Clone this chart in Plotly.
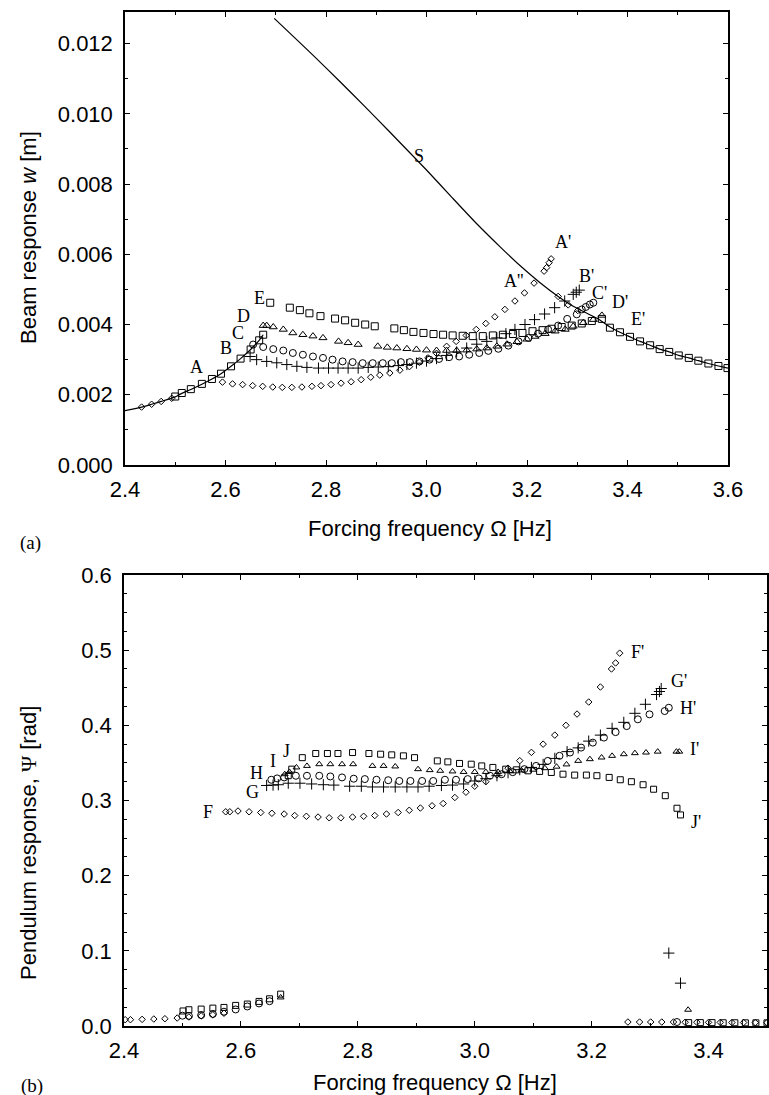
import plotly.graph_objects as go

W, H = 769, 1095

# ---------------- (a) beam response ----------------
S_x = [2.400, 2.433, 2.453, 2.472, 2.500, 2.513, 2.531, 2.553, 2.573, 2.591, 2.611, 2.630, 2.650, 2.667, 2.675,
       None,
       2.697, 2.750, 2.800, 2.850, 2.900, 2.950, 3.000, 3.050, 3.100, 3.146, 3.186, 3.226, 3.262, 3.292,
       3.325, 3.345, 3.365, 3.385, 3.405, 3.425, 3.445, 3.464, 3.483, 3.502, 3.522, 3.541, 3.561, 3.581, 3.600]
S_y = [0.00155, 0.00165, 0.00173, 0.00181, 0.00194, 0.00204, 0.00215, 0.00230, 0.00245, 0.00260, 0.00281, 0.00303,
       0.00329, 0.00355, 0.00371,
       None,
       0.01272, 0.01200, 0.01131, 0.01060, 0.00988, 0.00914, 0.00840, 0.00763, 0.00687, 0.00622, 0.00568, 0.00519,
       0.00480, 0.00452, 0.00428, 0.00413, 0.00393, 0.00378, 0.00365, 0.00352, 0.00341, 0.00330, 0.00322,
       0.00312, 0.00305, 0.00297, 0.00289, 0.00282, 0.00276]

A_x = [2.433, 2.453, 2.472, 2.493, 2.594, 2.614, 2.634, 2.654, 2.674, 2.694, 2.713, 2.732, 2.752, 2.772, 2.790,
       2.810, 2.830, 2.850, 2.870, 2.889, 2.907, 2.927, 2.947, 2.966, 2.986, 3.003, 3.020, 3.040, 3.059, 3.079,
       3.099, 3.118, 3.136, 3.156, 3.176, 3.195, 3.214, 3.234, 3.239, 3.244, 3.248, 3.262, 3.282, 3.301]
A_y = [0.00165, 0.00173, 0.00181, 0.00190, 0.00236, 0.00231, 0.00229, 0.00226, 0.00224, 0.00222, 0.00221, 0.00221,
       0.00222, 0.00224, 0.00226, 0.00229, 0.00233, 0.00237, 0.00243, 0.00250, 0.00256, 0.00262, 0.00270, 0.00280,
       0.00293, 0.00305, 0.00318, 0.00338, 0.00352, 0.00369, 0.00386, 0.00403, 0.00422, 0.00443, 0.00467, 0.00490,
       0.00518, 0.00552, 0.00562, 0.00576, 0.00587, 0.00480, 0.00456, 0.00440]

B_x = [2.649, 2.662, 2.682, 2.702, 2.722, 2.742, 2.762, 2.785, 2.805, 2.824, 2.844, 2.864, 2.884, 2.904, 2.924,
       2.944, 2.961, 2.980, 3.000, 3.020, 3.040, 3.060, 3.080, 3.100, 3.120, 3.140, 3.158, 3.176, 3.196, 3.215,
       3.235, 3.255, 3.275, 3.292, 3.298, 3.304]
B_y = [0.00309, 0.00300, 0.00295, 0.00291, 0.00286, 0.00281, 0.00278, 0.00276, 0.00276, 0.00276, 0.00276, 0.00276,
       0.00278, 0.00279, 0.00280, 0.00283, 0.00286, 0.00290, 0.00296, 0.00303, 0.00312, 0.00322, 0.00333, 0.00344,
       0.00352, 0.00362, 0.00374, 0.00386, 0.00400, 0.00414, 0.00430, 0.00448, 0.00467, 0.00486, 0.00492, 0.00498]

C_x = [2.655, 2.675, 2.695, 2.715, 2.734, 2.754, 2.774, 2.794, 2.813, 2.833, 2.853, 2.873, 2.893, 2.913, 2.931,
       2.949, 2.967, 2.986, 3.006, 3.025, 3.045, 3.065, 3.085, 3.105, 3.123, 3.143, 3.163, 3.183, 3.203, 3.222,
       3.242, 3.262, 3.280, 3.299, 3.309, 3.317, 3.325, 3.332]
C_y = [0.00343, 0.00336, 0.00330, 0.00326, 0.00319, 0.00314, 0.00309, 0.00305, 0.00300, 0.00295, 0.00293, 0.00290,
       0.00290, 0.00290, 0.00290, 0.00293, 0.00293, 0.00295, 0.00300, 0.00302, 0.00307, 0.00309, 0.00314, 0.00319,
       0.00325, 0.00331, 0.00340, 0.00352, 0.00362, 0.00374, 0.00386, 0.00397, 0.00416, 0.00429, 0.00443, 0.00450,
       0.00457, 0.00462]

D_x = [2.675, 2.682, 2.695, 2.715, 2.734, 2.754, 2.774, 2.794, 2.825, 2.844, 2.864, 2.903, 2.922, 2.941, 2.961,
       2.980, 3.000, 3.020, 3.040, 3.060, 3.080, 3.100, 3.120, 3.140, 3.160, 3.180, 3.200, 3.216, 3.236, 3.256,
       3.276, 3.292, 3.312, 3.332, 3.349]
D_y = [0.00397, 0.00397, 0.00393, 0.00386, 0.00376, 0.00371, 0.00367, 0.00362, 0.00352, 0.00348, 0.00343, 0.00338,
       0.00335, 0.00333, 0.00331, 0.00329, 0.00327, 0.00326, 0.00326, 0.00326, 0.00327, 0.00330, 0.00333, 0.00338,
       0.00344, 0.00351, 0.00358, 0.00366, 0.00374, 0.00381, 0.00386, 0.00395, 0.00405, 0.00414, 0.00426]

E_x = [2.500, 2.513, 2.531, 2.553, 2.573, 2.591, 2.611, 2.630, 2.650, 2.667, 2.675,
       2.689, 2.728, 2.748, 2.767, 2.789, 2.818, 2.838, 2.858, 2.878, 2.897, 2.936, 2.955, 2.974, 2.994, 3.014,
       3.033, 3.052, 3.072, 3.092, 3.112, 3.132, 3.152, 3.172, 3.191, 3.211, 3.231, 3.249, 3.269, 3.289, 3.309,
       3.329, 3.349,
       3.365, 3.385, 3.405, 3.425, 3.445, 3.464, 3.483, 3.502, 3.522, 3.541, 3.561, 3.581, 3.599]
E_y = [0.00195, 0.00205, 0.00216, 0.00231, 0.00245, 0.00260, 0.00281, 0.00303, 0.00329, 0.00355, 0.00371,
       0.00462, 0.00448, 0.00441, 0.00432, 0.00424, 0.00417, 0.00412, 0.00405, 0.00400, 0.00395, 0.00389, 0.00384,
       0.00379, 0.00376, 0.00373, 0.00371, 0.00369, 0.00368, 0.00367, 0.00367, 0.00369, 0.00371, 0.00373, 0.00376,
       0.00381, 0.00384, 0.00388, 0.00393, 0.00397, 0.00403, 0.00410, 0.00416,
       0.00391, 0.00378, 0.00365, 0.00352, 0.00341, 0.00330, 0.00322, 0.00312, 0.00305, 0.00297, 0.00289, 0.00282,
       0.00276]

labels_a = ["A", "B", "C", "D", "E", "S", "A'", "A''", "B'", "C'", "D'", "E'"]
labels_a_x = [2.543, 2.601, 2.625, 2.636, 2.667, 2.985, 3.272, 3.174, 3.319, 3.345, 3.385, 3.420]
labels_a_y = [0.00280, 0.00334, 0.00377, 0.00423, 0.00476, 0.00880, 0.00634, 0.00523, 0.00537, 0.00490, 0.00464, 0.00416]

# ---------------- (b) pendulum response ----------------
F_x = [2.402, 2.411, 2.431, 2.451, 2.470, 2.491, 2.511, 2.532, 2.552, 2.571,
       2.574, 2.581, 2.595, 2.614, 2.634, 2.653, 2.674, 2.692, 2.712, 2.732, 2.751, 2.771, 2.791, 2.810, 2.829,
       2.849, 2.869, 2.888, 2.907, 2.927, 2.946, 2.966, 2.985, 3.000, 3.019, 3.038, 3.057, 3.077, 3.097, 3.117,
       3.137, 3.156, 3.175, 3.195, 3.215, 3.234, 3.241, 3.248,
       3.262, 3.282, 3.301, 3.320, 3.340, 3.360, 3.380, 3.400, 3.420, 3.440, 3.460, 3.480, 3.500]
F_y = [0.0084, 0.0084, 0.0088, 0.0093, 0.0097, 0.0106, 0.0120, 0.0135, 0.0150, 0.0170,
       0.285, 0.285, 0.286, 0.285, 0.284, 0.283, 0.282, 0.280, 0.279, 0.278, 0.277, 0.277, 0.278, 0.279, 0.280,
       0.282, 0.284, 0.287, 0.290, 0.293, 0.296, 0.304, 0.311, 0.319, 0.325, 0.334, 0.343, 0.353, 0.364, 0.375,
       0.387, 0.400, 0.415, 0.431, 0.451, 0.475, 0.483, 0.496,
       0.0053, 0.0053, 0.0053, 0.0053, 0.0053, 0.0050, 0.0050, 0.0048, 0.0048, 0.0046, 0.0046, 0.0045, 0.0045]

G_x = [2.644, 2.655, 2.664, 2.681, 2.701, 2.721, 2.741, 2.759, 2.786, 2.806, 2.825, 2.844, 2.864, 2.884, 2.903,
       2.922, 2.943, 2.962, 2.981, 3.000, 3.019, 3.038, 3.057, 3.077, 3.097, 3.117, 3.137, 3.158, 3.177, 3.195,
       3.215, 3.235, 3.255, 3.274, 3.292, 3.311, 3.316, 3.319,
       3.332, 3.352]
G_y = [0.320, 0.3205, 0.321, 0.323, 0.323, 0.322, 0.321, 0.3205, 0.319, 0.319, 0.318, 0.318, 0.318, 0.318, 0.318,
       0.319, 0.320, 0.3205, 0.322, 0.326, 0.329, 0.333, 0.337, 0.341, 0.344, 0.348, 0.356, 0.365, 0.370, 0.379,
       0.387, 0.396, 0.404, 0.416, 0.428, 0.441, 0.445, 0.449,
       0.097, 0.057]

Hc_x = [2.500, 2.511, 2.532, 2.552, 2.571, 2.591, 2.611, 2.631, 2.649,
        2.652, 2.662, 2.674, 2.694, 2.713, 2.734, 2.753, 2.773, 2.793, 2.812, 2.832, 2.852, 2.871, 2.890, 2.910,
        2.929, 2.949, 2.968, 2.988, 3.007, 3.026, 3.046, 3.065, 3.085, 3.105, 3.125, 3.145, 3.163, 3.182, 3.202,
        3.221, 3.241, 3.260, 3.279, 3.299, 3.325, 3.332,
        3.346]
Hc_y = [0.0137, 0.0135, 0.0145, 0.0160, 0.0190, 0.0220, 0.0260, 0.0300, 0.0330,
        0.3276, 0.3294, 0.3307, 0.3329, 0.3329, 0.3329, 0.332, 0.3307, 0.329, 0.3285, 0.3276, 0.327, 0.326, 0.326,
        0.326, 0.326, 0.3276, 0.3276, 0.3285, 0.3294, 0.333, 0.335, 0.3377, 0.3417, 0.346, 0.3527, 0.3594, 0.3638,
        0.3704, 0.377, 0.3837, 0.391, 0.399, 0.408, 0.4146, 0.419, 0.4234,
        0.0053]

I_x = [2.668,
       2.675, 2.683, 2.695, 2.713, 2.734, 2.753, 2.773, 2.792, 2.825, 2.844, 2.864, 2.903, 2.923, 2.941, 2.962,
       2.981, 3.000, 3.019, 3.040, 3.060, 3.080, 3.100, 3.120, 3.140, 3.157, 3.177, 3.197, 3.217, 3.235, 3.255,
       3.274, 3.293, 3.313, 3.345, 3.350,
       3.365]
I_y = [0.038,
       0.335, 0.338, 0.344, 0.346, 0.3483, 0.3483, 0.3483, 0.3483, 0.346, 0.346, 0.3453, 0.3417, 0.3404, 0.3395,
       0.3387, 0.338, 0.338, 0.338, 0.338, 0.339, 0.340, 0.341, 0.343, 0.345, 0.348, 0.3527, 0.355, 0.3572, 0.3594,
       0.3616, 0.363, 0.3638, 0.365, 0.365, 0.365,
       0.0216]

J_x = [2.501, 2.511, 2.532, 2.552, 2.571, 2.591, 2.611, 2.631, 2.649, 2.668,
       2.681, 2.687, 2.705, 2.728, 2.748, 2.766, 2.791, 2.819, 2.839, 2.858, 2.878, 2.897, 2.936, 2.954, 2.974,
       2.994, 3.012, 3.031, 3.053, 3.071, 3.091, 3.111, 3.131, 3.151, 3.171, 3.191, 3.209, 3.230, 3.249, 3.268,
       3.288, 3.306, 3.326, 3.346, 3.352,
       3.366, 3.386, 3.406, 3.425, 3.445, 3.463, 3.481, 3.500]
J_y = [0.0200, 0.0216, 0.0225, 0.0238, 0.0247, 0.0274, 0.0292, 0.0327, 0.0362, 0.0424,
       0.333, 0.3417, 0.357, 0.3625, 0.3625, 0.3625, 0.3638, 0.3625, 0.3616, 0.3607, 0.3594, 0.357, 0.3527, 0.3514,
       0.3493, 0.3483, 0.346, 0.344, 0.3417, 0.3408, 0.3395, 0.3387, 0.3373, 0.335, 0.3338, 0.3338, 0.333, 0.3307,
       0.3276, 0.325, 0.321, 0.315, 0.3064, 0.2897, 0.2808,
       0.0045, 0.0045, 0.0045, 0.0043, 0.0043, 0.0042, 0.0042, 0.0042]

labels_b = ["F", "G", "H", "I", "J", "F'", "G'", "H'", "I'", "J'"]
labels_b_x = [2.544, 2.619, 2.627, 2.655, 2.678, 3.279, 3.349, 3.365, 3.376, 3.378]
labels_b_y = [0.285, 0.311, 0.337, 0.352, 0.366, 0.498, 0.459, 0.423, 0.368, 0.271]

x_ticks_a = [2.4, 2.6, 2.8, 3.0, 3.2, 3.4, 3.6]
x_ticks_b = [2.4, 2.6, 2.8, 3.0, 3.2, 3.4]

# ---------------- figure ----------------
fig = go.Figure()
BLK = "black"


def mk(symbol, size, lw=1.0):
    return dict(symbol=symbol, size=size, color=BLK, line=dict(color=BLK, width=lw))


fig.add_trace(go.Scatter(x=S_x, y=S_y, mode="lines", line=dict(color=BLK, width=1.2, shape="spline", smoothing=0.5),
                         xaxis="x", yaxis="y", connectgaps=False, showlegend=False))
top_series = [(A_x, A_y, "diamond-open", 5), (B_x, B_y, "cross-thin-open", 8),
              (C_x, C_y, "circle-open", 7), (D_x, D_y, "triangle-up-open", 7),
              (E_x, E_y, "square-open", 7)]
for xs, ys, sym, sz in top_series:
    fig.add_trace(go.Scatter(x=xs, y=ys, mode="markers", marker=mk(sym, sz),
                             xaxis="x", yaxis="y", showlegend=False))

bot_series = [(F_x, F_y, "diamond-open", 5), (G_x, G_y, "cross-thin-open", 8),
              (Hc_x, Hc_y, "circle-open", 7), (I_x, I_y, "triangle-up-open", 6),
              (J_x, J_y, "square-open", 6)]
for xs, ys, sym, sz in bot_series:
    fig.add_trace(go.Scatter(x=xs, y=ys, mode="markers", marker=mk(sym, sz),
                             xaxis="x2", yaxis="y2", showlegend=False))

SANS = "Liberation Sans, Arial, sans-serif"
SERIF = "Liberation Serif, Times New Roman, serif"
FS = 22

axis_common = dict(showline=True, linecolor=BLK, linewidth=1.5, mirror="allticks", ticks="inside",
                   ticklen=5, tickwidth=1, tickcolor=BLK, showgrid=False, zeroline=False, automargin=False,
                   tickfont=dict(family=SANS, size=FS, color=BLK))

fig.update_layout(
    template="none",
    width=W, height=H, margin=dict(l=0, r=0, t=0, b=0, autoexpand=False),
    paper_bgcolor="white", plot_bgcolor="white",
    xaxis=dict(axis_common, domain=[125 / W, 728 / W], range=[2.4, 3.6], anchor="y",
               tickvals=x_ticks_a, tickformat=".1f", ticklabelstandoff=4,
               minor=dict(dtick=0.1, ticks="inside", ticklen=3, tickcolor=BLK)),
    yaxis=dict(axis_common, domain=[1 - 465 / H, 1 - 12 / H], range=[0, 0.0129], anchor="x",
               dtick=0.002, tick0=0, tickformat=".3f", ticklabelstandoff=6,
               minor=dict(dtick=0.001, ticks="inside", ticklen=3, tickcolor=BLK)),
    xaxis2=dict(axis_common, domain=[124 / W, 767 / W], range=[2.4, 3.5], anchor="y2",
                tickvals=x_ticks_b, tickformat=".1f", ticklabelstandoff=4,
                minor=dict(dtick=0.1, ticks="inside", ticklen=3, tickcolor=BLK)),
    yaxis2=dict(axis_common, domain=[1 - 1026 / H, 1 - 575 / H], range=[0, 0.6], anchor="x2",
                dtick=0.1, tick0=0, tickformat=".1f", ticklabelstandoff=6,
                minor=dict(dtick=0.025, ticks="inside", ticklen=3, tickcolor=BLK)),
)

ann = []
for t, x, y in zip(labels_a, labels_a_x, labels_a_y):
    ann.append(dict(text=t, x=x, y=y, xref="x", yref="y", showarrow=False,
                    font=dict(family=SERIF, size=18, color=BLK)))
for t, x, y in zip(labels_b, labels_b_x, labels_b_y):
    ann.append(dict(text=t, x=x, y=y, xref="x2", yref="y2", showarrow=False,
                    font=dict(family=SERIF, size=18, color=BLK)))


def pann(text, px, py, angle=0, family=SANS, size=FS):
    return dict(text=text, x=px / W, y=1 - py / H, xref="paper", yref="paper", showarrow=False,
                xanchor="center", yanchor="middle", textangle=angle,
                font=dict(family=family, size=size, color=BLK))


ann.append(pann("Forcing frequency Ω [Hz]", 430, 528))
ann.append(pann("Beam response <i>w</i> [m]", 28, 238, angle=-90))
ann.append(pann("(a)", 30, 543, family=SERIF, size=19))
ann.append(pann("Forcing frequency Ω [Hz]", 435, 1082))
ann.append(pann("Pendulum response, <span style='font-family:Liberation Serif'>Ψ</span> [rad]", 29, 843, angle=-90))
ann.append(pann("(b)", 32, 1086, family=SERIF, size=19))
fig.update_layout(annotations=ann)

fig.write_html("out.html")
